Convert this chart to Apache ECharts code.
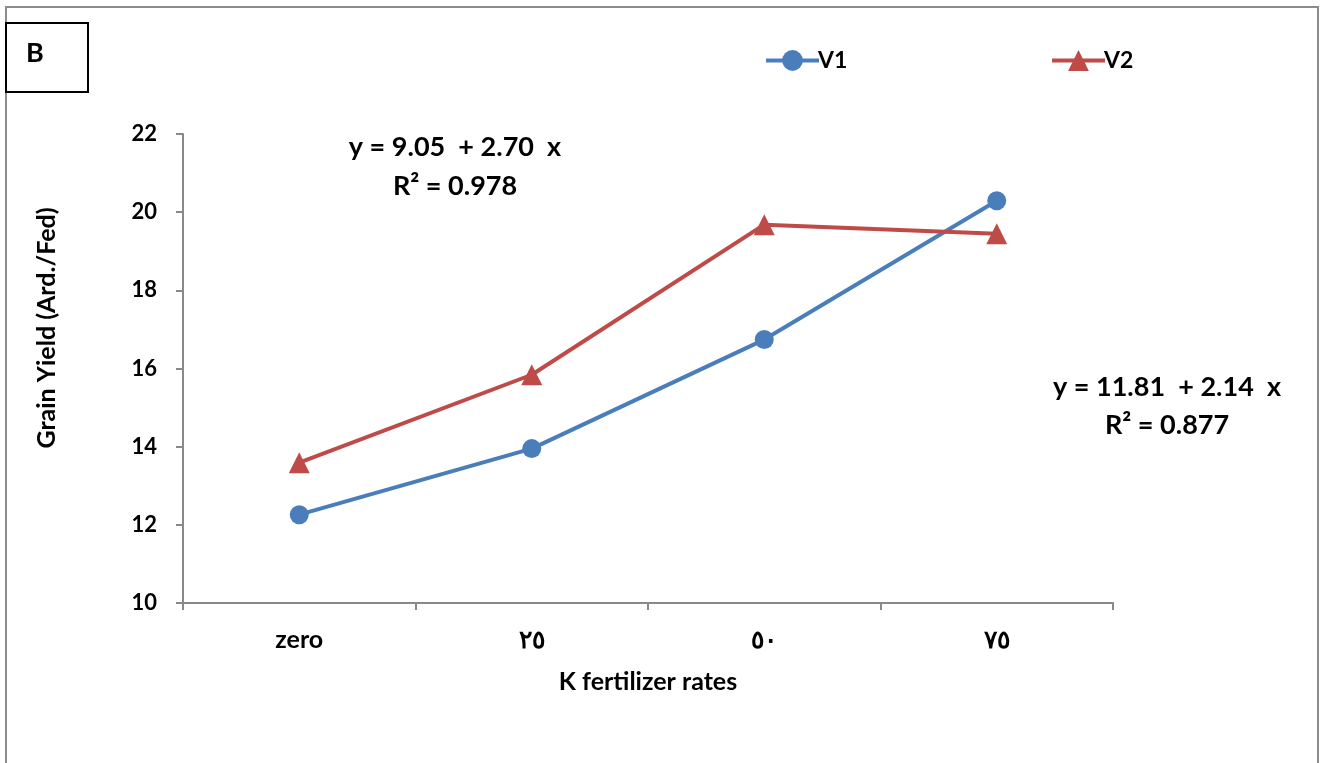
<!DOCTYPE html>
<html><head><meta charset="utf-8">
<script src="https://cdn.jsdelivr.net/npm/echarts@6/dist/echarts.min.js"></script>
<style>html,body{margin:0;padding:0;background:#fff}#c{width:1323px;height:763px}</style>
</head><body><div id="c"></div>
<script>
const categories = ['zero', '٢٥', '٥٠', '٧٥'];
const v1 = [12.26, 13.95, 16.74, 20.29];
const v2 = [13.59, 15.84, 19.68, 19.45];
const yTicks = { min: 10, max: 22, interval: 2 };
const eq1 = ['y = 9.05  + 2.70  x', 'R² = 0.978'];
const eq2 = ['y = 11.81  + 2.14  x', 'R² = 0.877'];

const FONT = 'Lato';
const legendText = { fontFamily: FONT, fontWeight: 'bold', fontSize: 23, color: '#000', padding: [0, 0, 0, -6] };
const legendBase = { top: 44, itemWidth: 53, itemHeight: 26, textStyle: legendText, lineStyle: { width: 4 } };
function txt(x, y, s, size, extra) {
  return Object.assign({ type: 'text', x: x, y: y, silent: true,
    style: { text: s, fontFamily: FONT, fontWeight: 'bold', fontSize: size, fill: '#000', align: 'center', verticalAlign: 'middle' } }, extra || {});
}
const chart = echarts.init(document.getElementById('c'), null, { renderer: 'canvas' });
chart.setOption({
  animation: false,
  textStyle: { fontFamily: FONT },
  grid: { left: 183, right: 210, top: 134, bottom: 160 },
  legend: [
    Object.assign({ left: 759, data: ['V1'] }, legendBase),
    Object.assign({ left: 1045, data: ['V2'] }, legendBase)
  ],
  xAxis: {
    type: 'category', data: categories, boundaryGap: true,
    name: 'K fertilizer rates', nameLocation: 'middle', nameGap: 66,
    nameTextStyle: { fontFamily: FONT, fontWeight: 'bold', fontSize: 25, color: '#000' },
    axisLine: { lineStyle: { color: '#898989', width: 2 } },
    axisTick: { show: true, length: 7, inside: false, alignWithLabel: false, lineStyle: { color: '#898989', width: 2 } },
    axisLabel: { fontFamily: FONT, fontWeight: 'bold', fontSize: 25, color: '#000', margin: 24 },
    splitLine: { show: false }
  },
  yAxis: {
    type: 'value', min: yTicks.min, max: yTicks.max, interval: yTicks.interval,
    axisLine: { show: true, lineStyle: { color: '#898989', width: 2 } },
    axisTick: { show: true, length: 7, lineStyle: { color: '#898989', width: 2 } },
    axisLabel: { fontFamily: FONT, fontWeight: 'bold', fontSize: 22, color: '#000', margin: 26 },
    splitLine: { show: false }
  },
  series: [
    { name: 'V1', type: 'line', data: v1, symbol: 'circle', symbolSize: 19,
      lineStyle: { color: '#4A7EBB', width: 4 }, itemStyle: { color: '#4A7EBB' } },
    { name: 'V2', type: 'line', data: v2, symbol: 'triangle', symbolSize: 21,
      lineStyle: { color: '#BE4B48', width: 4 }, itemStyle: { color: '#BE4B48' } }
  ],
  graphic: [
    { type: 'rect', shape: { x: 6, y: 7, width: 1312, height: 770 }, style: { fill: 'none', stroke: '#8c8c8c', lineWidth: 2 }, silent: true },
    { type: 'rect', shape: { x: 6, y: 23, width: 82, height: 69 }, style: { fill: '#fff', stroke: '#000', lineWidth: 2 }, silent: true },
    txt(35, 53, 'B', 27),
    txt(47, 328, 'Grain Yield (Ard./Fed)', 25, { rotation: Math.PI / 2 }),
    txt(455, 147, eq1[0], 27),
    txt(455, 186, eq1[1], 27),
    txt(1167, 387, eq2[0], 27),
    txt(1167, 425, eq2[1], 27)
  ]
});
</script></body></html>
